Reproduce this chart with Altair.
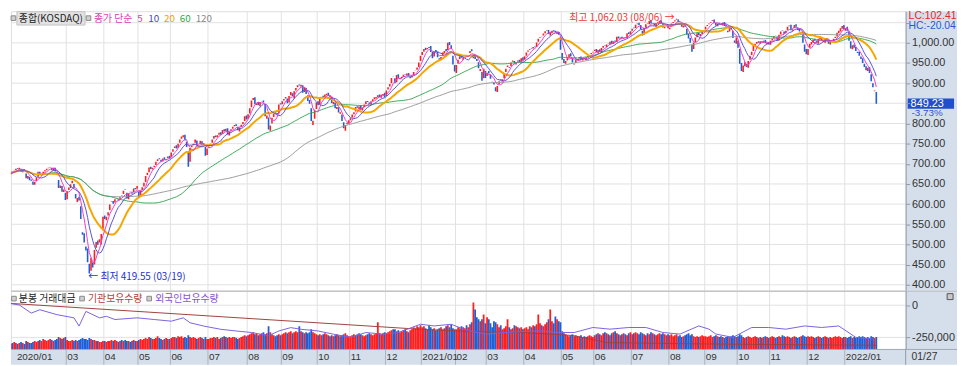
import altair as alt
import pandas as pd

# ---------------- daily KOSDAQ candles: open / close, and trading value (bars) ----------------
o_2020_01 = [670, 674, 682, 680, 684, 689, 687, 688, 679, 687, 676, 663, 668, 661]
c_2020_01 = [673, 680, 681, 683, 688, 687, 690, 680, 686, 684, 664, 670, 659, 658]
v_2020_01 = [6, 5, 6, 7, 6, 5, 6, 7, 6, 5, 8, 7, 6, 6]

o_2020_02 = [656, 648, 657, 668, 680, 671, 676, 681, 684, 689, 691, 690, 683, 690, 680, 660, 640, 645, 630, 628]
c_2020_02 = [648, 655, 666, 680, 673, 675, 680, 684, 688, 690, 692, 684, 690, 681, 674, 640, 646, 631, 636, 610]
v_2020_02 = [7, 8, 7, 8, 9, 8, 10, 9, 8, 9, 10, 9, 8, 9, 10, 12, 11, 10, 11, 12]

o_2020_03 = [612, 635, 640, 652, 650, 625, 605, 618, 595, 530, 528, 495, 490, 452, 435, 455, 450, 492, 510, 505, 500, 535]
c_2020_03 = [632, 641, 649, 658, 640, 614, 615, 609, 563, 524, 505, 485, 456, 428, 467, 443, 486, 506, 499, 513, 526, 569]
v_2020_03 = [9, 8, 8, 9, 8, 9, 8, 9, 10, 11, 10, 10, 9, 11, 10, 9, 9, 8, 8, 7, 7, 8]

o_2020_04 = [572, 560, 572, 585, 606, 608, 604, 613, 612, 610, 622, 625, 636, 628, 612, 631, 631, 630, 640, 638]
c_2020_04 = [563, 569, 580, 599, 607, 601, 612, 614, 609, 617, 621, 633, 635, 614, 627, 630, 628, 639, 637, 645]
v_2020_04 = [8, 7, 8, 8, 9, 8, 9, 8, 7, 8, 9, 8, 9, 8, 8, 7, 8, 9, 8, 8]

o_2020_05 = [630, 622, 635, 644, 655, 672, 679, 693, 686, 692, 697, 707, 714, 710, 706, 716, 709, 714, 720]
c_2020_05 = [616, 634, 642, 653, 670, 678, 691, 687, 690, 695, 705, 711, 711, 705, 713, 710, 712, 718, 713]
v_2020_05 = [9, 10, 9, 10, 11, 10, 12, 11, 10, 10, 11, 13, 11, 10, 9, 10, 11, 10, 10]

o_2020_06 = [716, 730, 739, 746, 740, 752, 762, 766, 772, 755, 728, 705, 741, 746, 752, 758, 740, 748, 756, 746, 742, 722]
c_2020_06 = [728, 736, 743, 738, 750, 760, 768, 771, 758, 742, 693, 739, 745, 750, 760, 743, 745, 757, 747, 751, 720, 738]
v_2020_06 = [11, 12, 12, 11, 13, 12, 13, 11, 12, 11, 14, 12, 11, 12, 11, 10, 11, 12, 11, 10, 12, 10]

o_2020_07 = [740, 744, 752, 762, 770, 766, 772, 778, 774, 786, 781, 788, 770, 782, 787, 793, 798, 792, 780, 791, 798, 806, 820]
c_2020_07 = [743, 750, 760, 769, 766, 771, 777, 772, 784, 780, 787, 773, 780, 786, 792, 796, 794, 783, 790, 797, 804, 818, 810]
v_2020_07 = [10, 11, 11, 12, 11, 12, 10, 11, 12, 13, 12, 11, 12, 11, 12, 12, 11, 10, 11, 12, 13, 14, 13]

o_2020_08 = [812, 825, 840, 858, 865, 846, 853, 843, 855, 857, 848, 812, 815, 782, 800, 816, 828, 826, 825, 850]
c_2020_08 = [823, 838, 857, 863, 848, 850, 845, 853, 856, 852, 818, 820, 785, 795, 814, 824, 824, 822, 847, 847]
v_2020_08 = [14, 15, 16, 17, 15, 16, 14, 15, 16, 17, 15, 16, 23, 17, 15, 14, 13, 14, 15, 14]

o_2020_09 = [848, 857, 862, 862, 852, 870, 875, 862, 882, 890, 897, 892, 895, 878, 888, 870, 858, 838, 796, 812, 836]
c_2020_09 = [855, 861, 866, 850, 868, 878, 868, 880, 888, 895, 894, 896, 876, 890, 873, 856, 849, 806, 807, 834, 852]
v_2020_09 = [15, 16, 17, 16, 17, 18, 16, 17, 18, 17, 23, 18, 17, 16, 17, 16, 17, 20, 17, 16, 15]

o_2020_10 = [855, 847, 864, 869, 866, 870, 876, 864, 866, 848, 852, 836, 840, 824, 822, 803, 782, 798, 800]
c_2020_10 = [845, 862, 866, 866, 872, 874, 868, 869, 851, 853, 838, 841, 827, 828, 806, 788, 796, 802, 808]
v_2020_10 = [14, 15, 14, 15, 16, 15, 14, 13, 14, 13, 14, 15, 14, 13, 14, 15, 16, 14, 13]

o_2020_11 = [808, 815, 823, 830, 843, 836, 846, 832, 841, 848, 856, 852, 847, 856, 860, 862, 865, 872, 864, 870, 876]
c_2020_11 = [813, 822, 828, 841, 839, 842, 834, 839, 847, 855, 853, 848, 855, 860, 865, 866, 870, 866, 871, 873, 865]
v_2020_11 = [13, 14, 15, 14, 15, 16, 15, 14, 13, 14, 15, 16, 15, 14, 15, 16, 27, 16, 15, 16, 17]

o_2020_12 = [868, 884, 892, 900, 916, 912, 902, 922, 910, 912, 915, 922, 920, 925, 912, 914, 920, 930, 933, 940, 955]
c_2020_12 = [882, 890, 898, 913, 915, 900, 920, 912, 913, 916, 921, 921, 924, 918, 915, 918, 928, 931, 939, 951, 968]
v_2020_12 = [16, 17, 18, 19, 20, 20, 18, 19, 17, 18, 19, 20, 18, 17, 19, 20, 22, 21, 23, 22, 24]

o_2021_01 = [970, 978, 988, 984, 990, 992, 978, 966, 982, 978, 962, 960, 968, 975, 985, 982, 1002, 994, 968, 945]
c_2021_01 = [977, 985, 982, 987, 987, 977, 962, 979, 977, 964, 958, 965, 976, 980, 979, 1000, 994, 985, 946, 929]
v_2021_01 = [22, 23, 21, 20, 24, 22, 20, 21, 19, 20, 21, 22, 20, 21, 23, 24, 22, 25, 21, 20]

o_2021_02 = [925, 948, 960, 968, 958, 966, 970, 965, 975, 984, 962, 970, 960, 952, 930, 928, 912, 930]
c_2021_02 = [945, 958, 967, 963, 964, 967, 967, 970, 980, 979, 966, 960, 955, 937, 935, 906, 936, 913]
v_2021_02 = [20, 22, 21, 23, 22, 21, 24, 22, 25, 27, 47, 40, 32, 30, 28, 30, 35, 26]

o_2021_03 = [918, 930, 920, 905, 902, 890, 878, 898, 910, 905, 912, 928, 940, 940, 942, 953, 955, 946, 954, 958, 952, 964]
c_2021_03 = [926, 924, 911, 904, 897, 880, 893, 905, 908, 910, 925, 936, 944, 938, 951, 956, 949, 952, 956, 952, 962, 956]
v_2021_03 = [32, 30, 26, 22, 28, 27, 25, 22, 24, 20, 21, 23, 30, 22, 20, 21, 24, 23, 22, 21, 22, 20]

o_2021_04 = [958, 968, 978, 982, 986, 986, 991, 990, 1003, 1012, 1016, 1018, 1024, 1030, 1032, 1018, 1024, 1032, 1030, 1022, 1027, 1015]
c_2021_04 = [967, 976, 981, 984, 985, 990, 989, 1001, 1010, 1014, 1015, 1023, 1029, 1031, 1022, 1026, 1030, 1030, 1026, 1025, 1020, 983]
v_2021_04 = [21, 22, 20, 23, 22, 24, 23, 25, 35, 26, 24, 23, 25, 27, 30, 40, 28, 26, 33, 30, 28, 27]

o_2021_05 = [975, 960, 948, 956, 964, 974, 962, 946, 950, 958, 961, 966, 956, 963, 958, 964, 967, 972, 976]
c_2021_05 = [958, 950, 955, 963, 972, 966, 951, 948, 958, 960, 965, 958, 962, 960, 964, 968, 970, 975, 978]
v_2021_05 = [18, 16, 15, 14, 13, 14, 15, 13, 14, 12, 13, 14, 12, 13, 12, 13, 14, 13, 12]

o_2021_06 = [980, 985, 975, 984, 976, 988, 994, 990, 998, 996, 1005, 997, 1006, 1002, 1016, 1010, 1015, 1010, 1014, 1012, 1026, 1020]
c_2021_06 = [983, 977, 982, 977, 987, 992, 993, 996, 997, 1003, 998, 1004, 1003, 1015, 1011, 1013, 1012, 1012, 1012, 1024, 1022, 1029]
v_2021_06 = [14, 15, 16, 15, 14, 16, 17, 16, 15, 14, 16, 17, 18, 16, 15, 14, 15, 16, 15, 14, 16, 17]

o_2021_07 = [1030, 1038, 1037, 1046, 1050, 1044, 1030, 1020, 1038, 1048, 1046, 1056, 1046, 1048, 1040, 1049, 1050, 1056, 1050, 1036, 1041, 1045]
c_2021_07 = [1035, 1036, 1045, 1048, 1044, 1034, 1018, 1037, 1046, 1047, 1054, 1048, 1047, 1043, 1048, 1051, 1055, 1049, 1038, 1040, 1044, 1036]
v_2021_07 = [15, 16, 17, 16, 15, 17, 16, 15, 14, 16, 15, 17, 16, 15, 14, 15, 16, 15, 16, 15, 14, 15]

o_2021_08 = [1034, 1040, 1049, 1053, 1057, 1058, 1050, 1046, 1038, 1045, 1035, 1022, 1012, 995, 985, 1002, 1014, 1025, 1017, 1022, 1029]
c_2021_08 = [1037, 1048, 1052, 1056, 1060, 1051, 1045, 1040, 1043, 1040, 1020, 1011, 1000, 978, 1000, 1013, 1024, 1019, 1022, 1028, 1031]
v_2021_08 = [14, 15, 13, 14, 15, 13, 14, 12, 13, 14, 15, 16, 14, 15, 13, 12, 13, 12, 13, 14, 13]

o_2021_09 = [1033, 1042, 1046, 1050, 1054, 1058, 1050, 1041, 1050, 1047, 1043, 1052, 1044, 1030, 1028, 1040, 1030, 1006, 998]
c_2021_09 = [1040, 1044, 1048, 1052, 1056, 1049, 1043, 1048, 1046, 1044, 1050, 1042, 1040, 1026, 1036, 1033, 1012, 1000, 1013]
v_2021_09 = [13, 12, 13, 14, 12, 13, 14, 13, 12, 13, 12, 11, 12, 13, 12, 13, 14, 13, 12]

o_2021_10 = [1005, 985, 950, 928, 942, 948, 938, 958, 970, 980, 992, 998, 1004, 998, 1004, 1000, 1007, 996, 1002]
c_2021_10 = [988, 948, 930, 944, 952, 940, 955, 968, 978, 992, 998, 1002, 1000, 1004, 1001, 1005, 999, 1000, 996]
v_2021_10 = [13, 15, 14, 12, 11, 12, 13, 12, 11, 12, 13, 12, 11, 12, 11, 12, 13, 12, 11]

o_2021_11 = [995, 1006, 1010, 1019, 1016, 1006, 1021, 1031, 1028, 1024, 1032, 1041, 1045, 1030, 1036, 1046, 1038, 1035, 1024, 1020, 996, 985]
c_2021_11 = [1005, 1011, 1017, 1018, 1005, 1020, 1028, 1030, 1022, 1030, 1040, 1043, 1031, 1034, 1044, 1040, 1032, 1028, 1025, 1000, 978, 972]
v_2021_11 = [12, 13, 12, 11, 12, 13, 12, 14, 13, 12, 13, 12, 11, 12, 13, 12, 11, 12, 13, 14, 13, 12]

o_2021_12 = [970, 988, 996, 1000, 1010, 1006, 998, 1008, 1014, 1006, 1000, 1006, 1010, 996, 1002, 1004, 1012, 1016, 1024, 1028, 1035, 1044]
c_2021_12 = [985, 998, 1002, 1008, 1005, 1000, 1010, 1012, 1006, 1002, 1008, 1012, 998, 1004, 1006, 1010, 1015, 1025, 1030, 1036, 1042, 1034]
v_2021_12 = [13, 12, 13, 12, 11, 12, 13, 12, 11, 12, 13, 12, 11, 12, 11, 12, 13, 12, 13, 12, 11, 12]

o_2022_01 = [1030, 1040, 1028, 1004, 984, 996, 990, 978, 978, 966, 962, 948, 942, 930, 940, 922, 900, 880, 878]
c_2022_01 = [1037, 1030, 1005, 986, 994, 988, 980, 975, 968, 960, 950, 940, 932, 938, 925, 905, 890, 882.09, 849.23]
v_2022_01 = [12, 11, 12, 13, 11, 12, 11, 12, 13, 12, 13, 12, 11, 12, 11, 13, 12, 11, 12]

# month -> tick label on the time axis
MONTHS = [
    ("2020/01", o_2020_01, c_2020_01, v_2020_01), ("02", o_2020_02, c_2020_02, v_2020_02),
    ("03", o_2020_03, c_2020_03, v_2020_03), ("04", o_2020_04, c_2020_04, v_2020_04),
    ("05", o_2020_05, c_2020_05, v_2020_05), ("06", o_2020_06, c_2020_06, v_2020_06),
    ("07", o_2020_07, c_2020_07, v_2020_07), ("08", o_2020_08, c_2020_08, v_2020_08),
    ("09", o_2020_09, c_2020_09, v_2020_09), ("10", o_2020_10, c_2020_10, v_2020_10),
    ("11", o_2020_11, c_2020_11, v_2020_11), ("12", o_2020_12, c_2020_12, v_2020_12),
    ("2021/01", o_2021_01, c_2021_01, v_2021_01), ("02", o_2021_02, c_2021_02, v_2021_02),
    ("03", o_2021_03, c_2021_03, v_2021_03), ("04", o_2021_04, c_2021_04, v_2021_04),
    ("05", o_2021_05, c_2021_05, v_2021_05), ("06", o_2021_06, c_2021_06, v_2021_06),
    ("07", o_2021_07, c_2021_07, v_2021_07), ("08", o_2021_08, c_2021_08, v_2021_08),
    ("09", o_2021_09, c_2021_09, v_2021_09), ("10", o_2021_10, c_2021_10, v_2021_10),
    ("11", o_2021_11, c_2021_11, v_2021_11), ("12", o_2021_12, c_2021_12, v_2021_12),
    ("2022/01", o_2022_01, c_2022_01, v_2022_01),
]
HIDDEN_TICKS = [1]   # 2020/02 has no label in the reference
LAST_DATE = "01/27"

# foreign holdings (purple) and institutional holdings (brown): day index, value (thousands)
fr_idx = [0, 6, 13, 18, 28, 38, 41, 45, 53, 57, 62, 75, 85, 95, 102, 106, 114, 124, 133, 142,
          152, 158, 165, 171, 181, 190, 200, 209, 219, 228, 241, 249, 259, 269, 280, 290, 311,
          321, 331, 342, 352, 363, 373, 383, 393, 404, 410, 414, 424, 435, 445, 455, 466, 476,
          486, 496, 507]
fr_val = [15, 2, -61, -35, -73, -98, -162, -48, -98, -86, -111, -98, -111, -124, -98, -136,
          -162, -187, -200, -212, -237, -200, -174, -187, -200, -225, -250, -212, -225, -212,
          -148, -161, -148, -199, -224, -212, -199, -212, -212, -173, -186, -173, -173, -212,
          -224, -161, -186, -224, -250, -173, -173, -186, -161, -173, -161, -250, -263]
inst_idx = [0, 242, 270, 300, 330, 350, 400, 508]
inst_val = [15, -188, -205, -212, -235, -290, -300, -312]

HIGH_TXT = "최고 1,062.03 (08/06) →"
HIGH_VAL = 1062.03
LOW_TXT = "← 최저 419.55 (03/19)"
LOW_VAL = 419.55
LAST_CLOSE = 849.23
LAST_CHG = "-3.73%"
LC_TXT = "LC:102.41"
HC_TXT = "HC:-20.04"

# ---------------- tables ----------------
rows, ticks = [], []
for m, (lab, o, c, v) in enumerate(MONTHS):
    assert len(o) == len(c) == len(v), lab
    if m not in HIDDEN_TICKS:
        ticks.append({"g": len(rows) - 0.5, "lab": lab})
    for oo, cc, vv in zip(o, c, v):
        rows.append({"i": len(rows), "o": oo, "c": cc, "v": vv})
df = pd.DataFrame(rows)

# ---------------- layout ----------------
W, HP, HV, STRIP, AXW = 906, 283, 59, 16, 52
X_DOM = [4.0, 522.3]
P_DOM = [385.3, 1078.4]
H_DOM = [-340000, 113000]
V_DOM = [0, 59]
tick_df = pd.DataFrame(ticks)
tick_df["lx"] = tick_df["g"].clip(lower=X_DOM[0])
tick_df["first"] = tick_df["g"] < X_DOM[0]
grid_df = tick_df[~tick_df["first"]]

AX_BG = "#d5dfeb"
GRID = "#e2e2e2"
AX_LINE = "#8f99a6"
KR = "Noto Sans CJK KR"
NUM = "Liberation Sans"
ONE = pd.DataFrame({"k": [0]})

xs = alt.Scale(domain=X_DOM, nice=False, zero=False)
ps = alt.Scale(domain=P_DOM, nice=False, zero=False)
price_axis = alt.Axis(orient="right", values=list(range(400, 1051, 50)),
                      labelExpr="(datum.value == 850 || datum.value == 1050) ? '' : format(datum.value, ',.2f')",
                      grid=False, domainColor=AX_LINE, tickColor=AX_LINE, tickSize=4,
                      labelColor="#333333", labelFont=NUM, labelFontSize=11, labelPadding=2,
                      title=None, zindex=2, labelFlush=False, labelOverlap=False)


def xI(f):
    return alt.X(f"{f}:Q", scale=xs, axis=None)


def yP(f):
    return alt.Y(f"{f}:Q", scale=ps, axis=price_axis)


def yPd(v):
    return alt.Y(datum=v, type="quantitative", scale=ps, axis=price_axis)


def yH(f, axis=None):
    return alt.Y(f"{f}:Q", scale=alt.Scale(domain=H_DOM, nice=False, zero=False), axis=axis)


def txt(t, x, y, color, size=10, font=KR, align="left"):
    return alt.Chart(ONE).mark_text(text=t, color=color, fontSize=size, font=font,
                                    align=align, baseline="middle").encode(
        x=alt.value(x), y=alt.value(y))


def square(x, y, fill="#d0d0d0", stroke="#8a8a8a", size=22):
    return alt.Chart(ONE).mark_square(size=size, fill=fill, stroke=stroke, strokeWidth=1,
                                      opacity=1).encode(x=alt.value(x), y=alt.value(y))


# ---------------- price panel ----------------
p_bg = alt.Chart(ONE).mark_rect(color=AX_BG).encode(
    x=alt.value(W), x2=alt.value(W + AXW), y=alt.value(0), y2=alt.value(HP))
p_hgrid = alt.Chart(pd.DataFrame({"p": list(range(400, 1051, 50))})).mark_rule(
    color=GRID, strokeWidth=1).encode(y=yP("p"))
p_vgrid = alt.Chart(grid_df).mark_rule(color=GRID, strokeWidth=1).encode(x=xI("g"))

candles = alt.Chart(df).transform_calculate(
    dir="datum.c >= datum.o ? 'up' : 'down'"
).mark_bar(size=1.6, clip=True).encode(
    x=xI("i"), y=yP("o"), y2=alt.Y2("c"),
    color=alt.Color("dir:N", scale=alt.Scale(domain=["up", "down"], range=["#ff1e1e", "#1f5fd6"]),
                    legend=None))

srt = [alt.SortField("i", order="ascending")]
ma_base = alt.Chart(df).transform_window(ma5="mean(c)", frame=[-4, 0], sort=srt) \
    .transform_window(ma10="mean(c)", frame=[-9, 0], sort=srt) \
    .transform_window(ma20="mean(c)", frame=[-19, 0], sort=srt) \
    .transform_window(ma60="mean(c)", frame=[-59, 0], sort=srt) \
    .transform_window(ma120="mean(c)", frame=[-119, 0], sort=srt)
ma_lines = [
    ma_base.mark_line(clip=True, color="#9a9a9a", strokeWidth=1).encode(x=xI("i"), y=yP("ma120")),
    ma_base.mark_line(clip=True, color="#3aaa55", strokeWidth=1).encode(x=xI("i"), y=yP("ma60")),
    ma_base.mark_line(clip=True, color="#f5a700", strokeWidth=2).encode(x=xI("i"), y=yP("ma20")),
    ma_base.mark_line(clip=True, color="#5353d8", strokeWidth=1).encode(x=xI("i"), y=yP("ma10")),
    ma_base.mark_line(clip=True, color="#f03cc8", strokeWidth=1).encode(x=xI("i"), y=yP("ma5")),
]

hi_i = int(df["c"].idxmax())
lo_i = int(df["c"].idxmin())
ann_hi = alt.Chart(ONE).mark_text(text=HIGH_TXT, color="#e8383d", fontSize=10, font=KR,
                                  align="right", baseline="middle", dx=-2).encode(
    x=alt.X(datum=hi_i, type="quantitative", scale=xs, axis=None), y=yPd(HIGH_VAL))
ann_lo = alt.Chart(ONE).mark_text(text=LOW_TXT, color="#2431d0", fontSize=10, font=KR,
                                  align="left", baseline="middle", dx=-1).encode(
    x=alt.X(datum=lo_i, type="quantitative", scale=xs, axis=None), y=yPd(LOW_VAL))

last_box = alt.Chart(ONE).mark_rect(color="#1f4fcc").encode(
    x=alt.value(W + 2), x2=alt.value(W + 49),
    y=yPd(LAST_CLOSE + 12.5), y2=alt.Y2(datum=LAST_CLOSE - 12.5))
last_txt = alt.Chart(ONE).mark_text(text=f"{LAST_CLOSE:.2f}", color="white", fontSize=11, font=NUM,
                                    align="left", baseline="middle").encode(
    x=alt.value(W + 5), y=yPd(LAST_CLOSE))
last_chg = alt.Chart(ONE).mark_text(text=LAST_CHG, color="#2f4fd0", fontSize=10, font=NUM,
                                    align="left", baseline="middle", dy=10).encode(
    x=alt.value(W + 6), y=yPd(LAST_CLOSE))

hdr_box = alt.Chart(ONE).mark_rect(fill="#e2e2e2", stroke="#c4c4c4", strokeWidth=1).encode(
    x=alt.value(6), x2=alt.value(75), y=alt.value(0.5), y2=alt.value(14))
price_hdr = [
    hdr_box,
    square(2.5, 7),
    txt("종합(KOSDAQ)", 8, 7.5, "#222222"),
    square(78.5, 7),
    txt("종가 단순", 84, 7.5, "#e03cb4"),
    txt("5", 128, 7.5, "#e03cb4"),
    txt("10", 139, 7.5, "#4646cc"),
    txt("20", 155, 7.5, "#f0a000"),
    txt("60", 171, 7.5, "#2ea84a"),
    txt("120", 187, 7.5, "#8c8c8c"),
    txt(LC_TXT, W + 3, 5, "#e02828", size=10.5, font=NUM),
    txt(HC_TXT, W + 3, 15, "#2a56d6", size=10.5, font=NUM),
]

price = alt.layer(p_bg, p_hgrid, p_vgrid, candles, *ma_lines, ann_hi, ann_lo,
                  last_box, last_txt, last_chg, *price_hdr).properties(width=W, height=HP)

# ---------------- volume / holdings panel ----------------
v_bg = alt.Chart(ONE).mark_rect(color=AX_BG).encode(
    x=alt.value(W), x2=alt.value(W + AXW), y=alt.value(0), y2=alt.value(HV))
strip_bg = alt.Chart(ONE).mark_rect(color=AX_BG).encode(
    x=alt.value(0), x2=alt.value(W + AXW), y=alt.value(HV), y2=alt.value(HV + STRIP))
v_vgrid = alt.Chart(grid_df).mark_rule(color=GRID, strokeWidth=1).encode(
    x=xI("g"), y=alt.value(0), y2=alt.value(HV))
strip_div = alt.Chart(grid_df).mark_rule(color="#a9b3c1", strokeWidth=1).encode(
    x=xI("g"), y=alt.value(HV), y2=alt.value(HV + STRIP))
strip_div_end = alt.Chart(ONE).mark_rule(color=AX_LINE, strokeWidth=1).encode(
    x=alt.value(W), y=alt.value(HV), y2=alt.value(HV + STRIP))
v_hgrid = alt.Chart(pd.DataFrame({"h": [0, -250000]})).mark_rule(color=GRID, strokeWidth=1).encode(
    y=yH("h"))
bars = alt.Chart(df).transform_calculate(
    dir="datum.c >= datum.o ? 'up' : 'down'"
).mark_bar(size=1.8, clip=True).encode(
    x=xI("i"), y=alt.Y("v:Q", scale=alt.Scale(domain=V_DOM, nice=False), axis=None),
    color=alt.Color("dir:N", scale=alt.Scale(domain=["up", "down"], range=["#ff0000", "#0000ff"]),
                    legend=None))
hold_axis = alt.Axis(orient="right", values=[0, -250000],
                     labelExpr="datum.value < 0 ? '-' + format(-datum.value, ',d') : format(datum.value, ',d')",
                     grid=False, domainColor=AX_LINE, tickColor=AX_LINE, tickSize=4,
                     labelColor="#333333", labelFont=NUM, labelFontSize=11, labelPadding=2,
                     title=None, zindex=2)
inst_line = alt.Chart(pd.DataFrame({"i": inst_idx, "h": [v * 1000 for v in inst_val]})).mark_line(
    color="#a0413c", strokeWidth=1, clip=True).encode(x=xI("i"), y=yH("h"))
fr_line = alt.Chart(pd.DataFrame({"i": fr_idx, "h": [v * 1000 for v in fr_val]})).mark_line(
    color="#7b62e0", strokeWidth=1, clip=True).encode(x=xI("i"), y=yH("h", hold_axis))
top_border = alt.Chart(ONE).mark_rule(color="#b8b8b8", strokeWidth=1).encode(
    x=alt.value(0), x2=alt.value(W + AXW), y=alt.value(0.5))
strip_border = alt.Chart(ONE).mark_rule(color="#9ea9b8", strokeWidth=1).encode(
    x=alt.value(0), x2=alt.value(W + AXW), y=alt.value(HV + 0.5))
month_lab = alt.Chart(tick_df).mark_text(color="#333333", fontSize=10, font=NUM, align="left",
                                         baseline="middle", dx=1).encode(
    x=alt.X("lx:Q", scale=xs, axis=None), y=alt.value(HV + 8.5), text="lab:N")
last_date = txt(LAST_DATE, W + 6, HV + 8.5, "#333333", size=10.5, font=NUM)
vol_hdr = [
    square(3, 8),
    txt("분봉 거래대금", 8, 8, "#222222"),
    square(72, 8),
    txt("기관보유수량", 78, 8, "#b0433c"),
    square(140, 8),
    txt("외국인보유수량", 146, 8, "#8a4fd8"),
    square(W + 45, 6, fill="#c9c9c9", stroke="#555555", size=36),
]

volume = alt.layer(v_bg, strip_bg, v_vgrid, strip_div, strip_div_end, v_hgrid, bars, inst_line,
                   fr_line, top_border, strip_border, month_lab, last_date, *vol_hdr
                   ).resolve_scale(y="independent").properties(width=W, height=HV)

chart = alt.vconcat(price, volume, spacing=0, bounds="flush").properties(
    padding={"left": 0, "top": 0, "right": 0, "bottom": 0}
).configure_view(stroke=None).configure(background="white")

chart.save("out.html", embed_options={"renderer": "svg", "actions": False})
